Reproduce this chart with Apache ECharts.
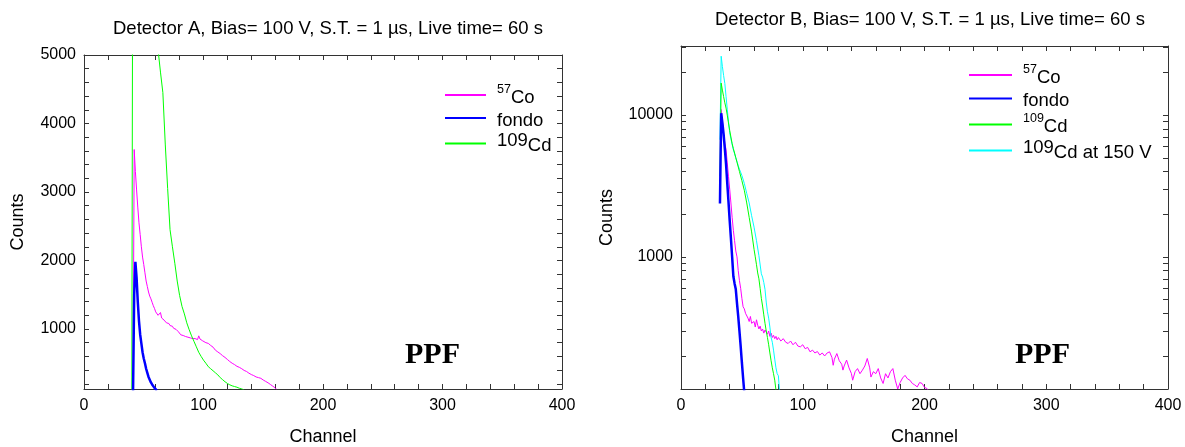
<!DOCTYPE html>
<html>
<head>
<meta charset="utf-8">
<script src="https://cdn.jsdelivr.net/npm/echarts@6/dist/echarts.min.js"></script>
<style>
html,body{margin:0;padding:0;background:#fff;}
#chart{width:1185px;height:447px;}
</style>
</head>
<body>
<div id="chart"></div>
<script>
// ---------- Data ----------
// Detector A (linear scale)
const co57A = [[41,20],[42,3620],[43,3300],[44,3030],[45,2780],[46,2550],[47,2380],[48,2200],[49,2050],[50,1940],[51,1820],[52,1700],[53,1620],[54,1540],[55,1480],[56,1440],[57,1390],[58,1340],[59,1300],[60,1250],[61,1230],[62,1200],[63,1185],[64,1240],[65,1160],[66,1140],[67,1130],[68,1120],[69,1090],[70,1070],[71,1080],[72,1050],[73,1035],[74,1040],[75,1010],[76,990],[77,995],[78,970],[79,960],[80,950],[81,915],[82,930],[83,905],[84,920],[85,890],[86,900],[87,880],[88,895],[89,870],[90,885],[91,860],[92,875],[93,860],[94,870],[95,845],[96,900],[97,855],[98,840],[99,830],[100,815],[102,800],[104,790],[106,760],[108,735],[110,690],[112,665],[114,640],[116,610],[118,585],[120,555],[122,525],[124,500],[126,480],[128,455],[130,440],[132,420],[134,395],[136,380],[138,355],[140,335],[142,320],[144,300],[146,290],[148,280],[150,255],[152,235],[154,215],[156,190],[158,165],[160,140],[161,120]];
const fondoA = [[41,0],[42,1500],[43,1980],[44,1750],[45,1400],[46,1120],[47,920],[48,790],[49,660],[50,570],[51,500],[52,420],[53,360],[54,300],[55,260],[56,220],[57,190],[58,165],[59,140],[60,120],[61,100]];
const cd109A = [[40,0],[41,9000],[42,14000],[44,12500],[46,11000],[48,9800],[50,8800],[52,7900],[54,7100],[56,6400],[58,5900],[60,5400],[62,5070],[64,4750],[66,4450],[68,3700],[70,3050],[72,2450],[74,2200],[76,1960],[78,1700],[80,1490],[82,1330],[84,1220],[86,1090],[88,990],[90,900],[92,820],[94,740],[96,660],[98,600],[100,545],[102,500],[104,450],[106,420],[108,390],[110,360],[112,330],[114,290],[116,260],[118,230],[120,205],[122,185],[124,170],[126,160],[128,150],[130,135],[132,125],[134,110]];

// Detector B (log scale)
const co57B = [[33,11000],[34,9000],[35,7400],[36,6300],[37,5700],[38,4600],[39,3700],[40,3000],[41,2400],[42,1900],[43,1540],[44,1300],[45,1100],[46,1000],[47,800],[48,680],[49,600],[50,510],[51,445],[52,430],[53,400],[54,410],[55,370],[56,350],[57,380],[58,340],[59,330],[60,350],[61,320],[62,360],[63,330],[64,310],[65,325],[66,300],[67,310],[68,290],[69,305],[70,315],[71,285],[72,300],[73,275],[74,290],[75,270],[76,280],[77,265],[78,275],[79,260],[80,270],[82,255],[84,265],[86,250],[88,245],[90,255],[92,240],[94,250],[96,235],[98,232],[100,240],[102,225],[104,230],[106,214],[108,220],[110,210],[112,215],[114,203],[116,210],[118,200],[120,210],[122,214],[124,195],[125,172],[126,190],[128,208],[130,185],[132,175],[133,159],[134,170],[136,187],[138,165],[140,150],[141,135],[143,155],[145,163],[147,150],[149,159],[151,170],[153,192],[155,165],[156,142],[158,155],[160,150],[162,163],[164,140],[166,128],[168,150],[170,140],[172,155],[174,163],[176,135],[178,117],[180,130],[182,140],[184,146],[186,138],[188,135],[190,128],[192,125],[194,121],[196,130],[198,128],[200,120],[202,118],[203,115]];
const fondoB = [[32,2380],[33,10300],[34,8800],[35,7300],[36,5800],[37,4500],[38,3300],[39,2450],[40,1800],[41,1350],[42,1000],[43,730],[44,650],[45,590],[46,470],[47,380],[48,300],[49,235],[50,180],[51,140],[52,110]];
const cd109B = [[32,3700],[33,16800],[34,15000],[35,13500],[36,12200],[37,11200],[38,10000],[39,8800],[40,7800],[41,7000],[42,6300],[43,5800],[44,5400],[45,5000],[46,4650],[48,4000],[50,3450],[52,2950],[54,2400],[56,1900],[58,1500],[60,1130],[61,1000],[62,880],[63,770],[64,700],[65,600],[66,510],[67,450],[68,390],[69,340],[70,300],[71,270],[72,240],[73,210],[74,185],[75,165],[76,150],[77,135],[78,115]];
const cd109B150 = [[32,6700],[33,26000],[34,22000],[35,19000],[36,16700],[37,13500],[38,11000],[39,9000],[40,7500],[41,6800],[42,6200],[43,5700],[44,5350],[45,5000],[46,4700],[47,4400],[48,4150],[49,3950],[50,3750],[52,3300],[54,2800],[56,2400],[58,1950],[60,1620],[62,1300],[64,1020],[66,760],[67,720],[68,660],[69,590],[70,480],[71,410],[72,370],[73,320],[74,270],[75,250],[76,220],[77,190],[78,165],[79,150],[80,145],[81,110]];

// Axis ticks / labels
const xLabels = [0,100,200,300,400];
const xTicks = [0,20,40,60,80,100,120,140,160,180,200,220,240,260,280,300,320,340,360,380,400];
const yLabelsA = [1000,2000,3000,4000,5000];
const yTicksA = [200,400,600,800,1000,1200,1400,1600,1800,2000,2200,2400,2600,2800,3000,3200,3400,3600,3800,4000,4200,4400,4600,4800,5000];
const yLabelsB = [1000,10000];
const yTicksB = [200,300,400,500,600,700,800,900,1000,2000,3000,4000,5000,6000,7000,8000,9000,10000,20000,30000];

const titleA = 'Detector A, Bias= 100 V, S.T. = 1 \u00b5s, Live time= 60 s';
const titleB = 'Detector B, Bias= 100 V, S.T. = 1 \u00b5s, Live time= 60 s';

// ---------- Chart ----------
const FONT = '"Liberation Sans", Arial, sans-serif';
const AX = '#333';
const plain = function (v) { return String(v); };
const chart = echarts.init(document.getElementById('chart'), null, {renderer: 'canvas'});

function xAxisPair(grid) {
  return [
    {gridIndex: grid, type: 'value', min: 0, max: 400, position: 'bottom',
     axisLine: {show: true, onZero: false, lineStyle: {color: AX, width: 1}},
     axisTick: {show: true, inside: true, length: 5, customValues: xTicks, lineStyle: {color: AX}},
     axisLabel: {show: true, customValues: xLabels, formatter: plain, fontSize: 16, color: '#000', fontFamily: FONT, margin: 9},
     splitLine: {show: false},
     name: 'Channel', nameLocation: 'middle', nameGap: 39,
     nameTextStyle: {fontSize: 18, color: '#000', fontFamily: FONT}},
    {gridIndex: grid, type: 'value', min: 0, max: 400, position: 'top',
     axisLine: {show: true, onZero: false, lineStyle: {color: AX, width: 1}},
     axisTick: {show: true, inside: true, length: 5, customValues: xTicks, lineStyle: {color: AX}},
     axisLabel: {show: false}, splitLine: {show: false}}
  ];
}

const FS = 18.5;
const richBase = {
  g: {width: 6, fontSize: FS, lineHeight: 16},
  s: {fontSize: 12.5, lineHeight: 14, verticalAlign: 'top', color: '#000', fontFamily: FONT},
  b: {fontSize: FS, lineHeight: 24, verticalAlign: 'bottom', color: '#000', fontFamily: FONT},
  n: {fontSize: FS, lineHeight: 16, verticalAlign: 'top', color: '#000', fontFamily: FONT}
};
const legendText = {
  'Co57A': '{g| }{s|57}{b|Co}',
  'fondoA': '{g| }{b|fondo}',
  'Cd109A': '{g| }{n|109}{b|Cd}',
  'Co57B': '{g| }{s|57}{b|Co}',
  'fondoB': '{g| }{b|fondo}',
  'Cd109B': '{g| }{s|109}{b|Cd}',
  'Cd109B150': '{g| }{n|109}{b|Cd at 150 V}'
};

function line(name, data, color, width, xi, yi) {
  return {name: name, type: 'line', data: data, xAxisIndex: xi, yAxisIndex: yi,
    symbol: 'none', showSymbol: false, smooth: false, clip: true, animation: false,
    lineStyle: {color: color, width: width}, itemStyle: {color: color}, z: 3};
}

const option = {
  backgroundColor: '#fff',
  animation: false,
  title: [
    {text: titleA, left: 323, top: 14, textAlign: 'center',
     textStyle: {fontSize: 18.5, fontWeight: 'normal', color: '#000', fontFamily: FONT}},
    {text: titleB, left: 925, top: 5, textAlign: 'center',
     textStyle: {fontSize: 18.5, fontWeight: 'normal', color: '#000', fontFamily: FONT}}
  ],
  grid: [
    {left: 84, top: 55, width: 478, height: 334, outerBoundsMode: 'none', containLabel: false},
    {left: 681, top: 46, width: 487, height: 343, outerBoundsMode: 'none', containLabel: false}
  ],
  xAxis: [].concat(xAxisPair(0), xAxisPair(1)),
  yAxis: [
    {gridIndex: 0, type: 'value', min: 124, max: 5000, position: 'left',
     axisLine: {show: true, onZero: false, lineStyle: {color: AX, width: 1}},
     axisTick: {show: true, inside: true, length: 5, customValues: yTicksA, lineStyle: {color: AX}},
     axisLabel: {show: true, customValues: yLabelsA, formatter: plain, fontSize: 16, color: '#000', fontFamily: FONT, margin: 8},
     splitLine: {show: false},
     name: 'Counts', nameLocation: 'middle', nameGap: 57,
     nameTextStyle: {fontSize: 18, color: '#000', fontFamily: FONT}},
    {gridIndex: 0, type: 'value', min: 124, max: 5000, position: 'right',
     axisLine: {show: true, onZero: false, lineStyle: {color: AX, width: 1}},
     axisTick: {show: true, inside: true, length: 5, customValues: yTicksA, lineStyle: {color: AX}},
     axisLabel: {show: false}, splitLine: {show: false}},
    {gridIndex: 1, type: 'log', logBase: 10, min: 117, max: 30700, position: 'left',
     axisLine: {show: true, onZero: false, lineStyle: {color: AX, width: 1}},
     axisTick: {show: true, inside: true, length: 5, customValues: yTicksB, lineStyle: {color: AX}},
     axisLabel: {show: true, customValues: yLabelsB, formatter: plain, fontSize: 16, color: '#000', fontFamily: FONT, margin: 8},
     splitLine: {show: false}, minorTick: {show: false},
     name: 'Counts', nameLocation: 'middle', nameGap: 65,
     nameTextStyle: {fontSize: 18, color: '#000', fontFamily: FONT}},
    {gridIndex: 1, type: 'log', logBase: 10, min: 117, max: 30700, position: 'right',
     axisLine: {show: true, onZero: false, lineStyle: {color: AX, width: 1}},
     axisTick: {show: true, inside: true, length: 5, customValues: yTicksB, lineStyle: {color: AX}},
     axisLabel: {show: false}, splitLine: {show: false}}
  ],
  legend: [
    {data: ['Co57A', 'fondoA', 'Cd109A'], orient: 'vertical', left: 444, top: 83, padding: 0,
     itemWidth: 41, itemHeight: 14, itemGap: 1.5, selectedMode: false,
     itemStyle: {opacity: 0},
     formatter: function (n) { return legendText[n]; },
     textStyle: {rich: richBase, fontFamily: FONT}},
    {data: ['Co57B', 'fondoB', 'Cd109B', 'Cd109B150'], orient: 'vertical', left: 968, top: 63, padding: 0,
     itemWidth: 43, itemHeight: 14, itemGap: 2, selectedMode: false,
     itemStyle: {opacity: 0},
     formatter: function (n) { return legendText[n]; },
     textStyle: {rich: richBase, fontFamily: FONT}}
  ],
  graphic: [
    {type: 'text', left: 405, top: 340, style: {text: 'PPF', font: 'bold 30px "Liberation Serif", "Times New Roman", serif', fill: '#000'}},
    {type: 'text', left: 1015, top: 340, style: {text: 'PPF', font: 'bold 30px "Liberation Serif", "Times New Roman", serif', fill: '#000'}}
  ],
  series: [
    line('Co57A', co57A, '#ff00ff', 1, 0, 0),
    line('Cd109A', cd109A, '#00ff00', 1, 0, 0),
    line('fondoA', fondoA, '#0000ff', 2.5, 0, 0),
    line('Co57B', co57B, '#ff00ff', 1, 2, 2),
    line('Cd109B150', cd109B150, '#00ffff', 1, 2, 2),
    line('Cd109B', cd109B, '#00ff00', 1, 2, 2),
    line('fondoB', fondoB, '#0000ff', 2.5, 2, 2)
  ]
};
chart.setOption(option);
</script>
</body>
</html>
